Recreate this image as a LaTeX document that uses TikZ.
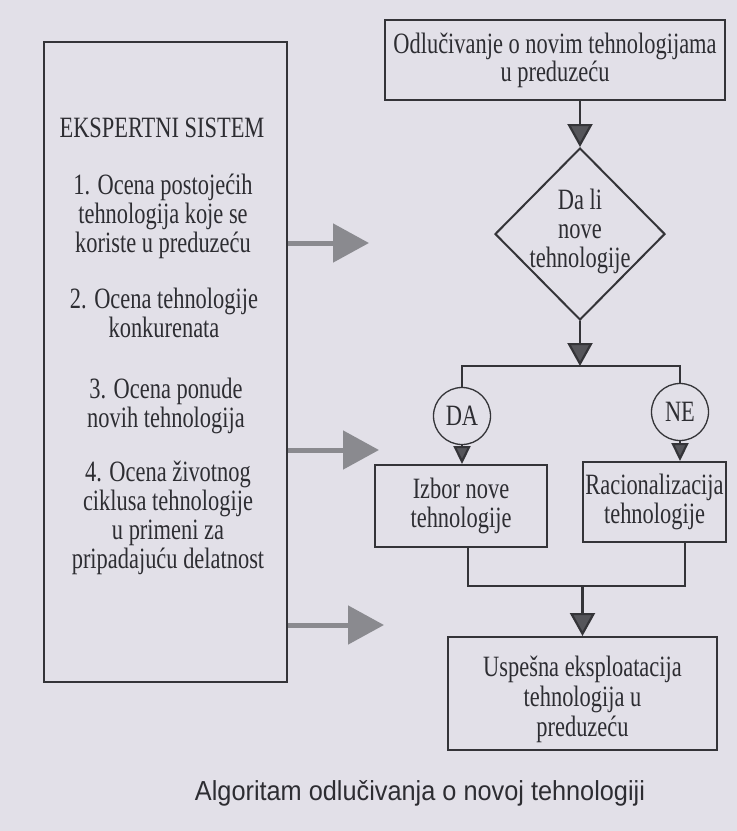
\documentclass[tikz,border=0pt]{standalone}
\usepackage{fontspec}
\setmainfont{Liberation Serif}[FakeStretch=0.76]
\newfontfamily\capfont{Liberation Sans}[FakeStretch=0.92]
\usetikzlibrary{arrows.meta,shapes.geometric,calc}
\definecolor{paper}{RGB}{226,224,232}
\definecolor{ink}{RGB}{52,52,56}
\definecolor{txt}{RGB}{45,45,50}
\definecolor{tipgray}{RGB}{85,85,90}
\definecolor{biggray}{RGB}{138,138,143}
\tikzset{
  txtfont/.style={font=\fontsize{29.5}{29}\selectfont, text=txt},
  box/.style={draw=ink, line width=2pt, rectangle, inner sep=1pt, align=center, txtfont},
  circ/.style={draw=ink, line width=1.3pt, circle, minimum size=57pt, inner sep=0pt, txtfont},
  link/.style={draw=ink, line width=2.2pt, line join=miter},
  flow/.style={link, -{Triangle[length=23pt, width=25pt, fill=tipgray]}},
  smallflow/.style={link, -{Triangle[length=18pt, width=17pt, fill=tipgray]}},
  bigarrow/.style={draw=biggray, line width=5pt, -{Triangle[length=36pt, width=38pt, fill=biggray]}},
}
\begin{document}
\begin{tikzpicture}[x=1pt,y=-1pt]
\fill[paper] (0,0) rectangle (737,831);
\useasboundingbox (0,0) rectangle (737,831);

% left box: expert system
\node[box, minimum width=243pt, minimum height=640pt] (exp) at (165.5,362) {};
\node[txtfont] (ttl) at (162,128) {EKSPERTNI SISTEM};
\node[txtfont, align=center] (i1) at (163,216) {1. Ocena postojećih\\tehnologija koje se\\koriste u preduzeću};
\node[txtfont, align=center] (i2) at (164,313) {2. Ocena tehnologije\\konkurenata};
\node[txtfont, align=center] (i3) at (166,406) {3. Ocena ponude\\novih tehnologija};
\node[txtfont, align=center] (i4) at (168,518) {4. Ocena životnog\\ciklusa tehnologije\\u primeni za\\pripadajuću delatnost};

% big gray arrows
\coordinate (g1) at (369,243);
\coordinate (g2) at (379,450);
\coordinate (g3) at (384,625);
\draw[bigarrow] (exp.east |- g1) -- (g1);
\draw[bigarrow] (exp.east |- g2) -- (g2);
\draw[bigarrow] (exp.east |- g3) -- (g3);

% right column
\node[box, minimum width=340pt, minimum height=80pt, font=\fontsize{29.5}{25}\selectfont] (top) at (555,60) {Odlučivanje o novim tehnologijama\\u preduzeću};
\node[draw=ink, line width=2pt, diamond, minimum width=170pt, minimum height=172pt, inner sep=0pt] (dia) at (580,234) {};
\node[txtfont, align=center] (dtx) at (580,231) {Da li\\nove\\tehnologije};
\draw[flow] (dia.north |- top.south) -- (dia.north);

\coordinate (split) at (580,366);
\draw[flow] (dia.south) -- (split);

\node[circ] (da) at (462,416) {DA};
\node[circ] (ne) at (680,412) {NE};
\draw[link] (da.north) -- (da.north |- split) -- (ne.north |- split) -- (ne.north);

\node[box, minimum width=172pt, minimum height=82pt] (izb) at (461,506) {Izbor nove\\tehnologije};
\node[box, minimum width=143pt, minimum height=80pt, inner sep=0pt] (rac) at (654.5,502) {Racionalizacija\\tehnologije};
\draw[smallflow] (da.south) -- (da.south |- izb.north);
\draw[smallflow] (ne.south) -- (ne.south |- rac.north);

\coordinate (mL) at (468,586);
\coordinate (mR) at (685,586);
\draw[link] (izb.south -| mL) -- (mL) -- (mR) -- (rac.south -| mR);

\node[box, minimum width=269pt, minimum height=113pt] (usp) at (582.5,693.5) {};
\node[txtfont, align=center, font=\fontsize{29.5}{30}\selectfont] (usptx) at (582.5,699) {Uspešna eksploatacija\\tehnologija u\\preduzeću};
\draw[flow] (usp.north |- mL) -- (usp.north);

% caption
\node[font=\capfont\fontsize{27.5}{30}\selectfont, text=txt] (cap) at (420,793) {Algoritam odlučivanja o novoj tehnologiji};
\end{tikzpicture}
\end{document}
